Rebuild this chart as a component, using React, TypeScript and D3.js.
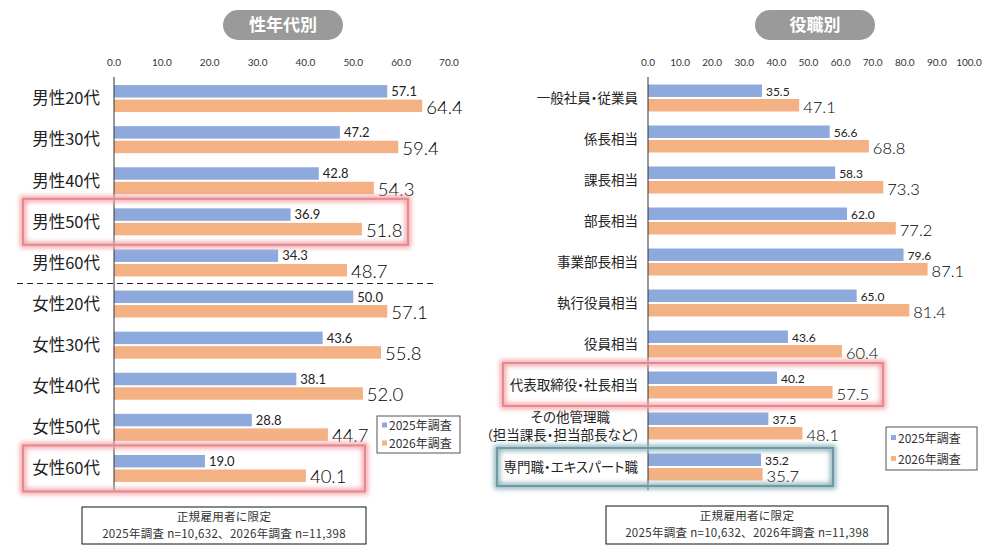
import { useEffect, useRef } from 'react';
import * as d3 from 'd3';

// left panel: 性年代別
const ageCategories = ['男性20代', '男性30代', '男性40代', '男性50代', '男性60代', '女性20代', '女性30代', '女性40代', '女性50代', '女性60代'];
const age2025 = [57.1, 47.2, 42.8, 36.9, 34.3, 50.0, 43.6, 38.1, 28.8, 19.0];
const age2026 = [64.4, 59.4, 54.3, 51.8, 48.7, 57.1, 55.8, 52.0, 44.7, 40.1];
const ageTicks = [0, 10, 20, 30, 40, 50, 60, 70];

// right panel: 役職別
const roleCategories = ['一般社員・従業員', '係長相当', '課長相当', '部長相当', '事業部長相当', '執行役員相当', '役員相当', '代表取締役・社長相当', 'その他管理職|（担当課長・担当部長など）', '専門職・エキスパート職'];
const role2025 = [35.5, 56.6, 58.3, 62.0, 79.6, 65.0, 43.6, 40.2, 37.5, 35.2];
const role2026 = [47.1, 68.8, 73.3, 77.2, 87.1, 81.4, 60.4, 57.5, 48.1, 35.7];
const roleTicks = [0, 10, 20, 30, 40, 50, 60, 70, 80, 90, 100];

const seriesNames = ['2025年調査', '2026年調査'];
const footLines = ['正規雇用者に限定', '2025年調査 n=10,632、2026年調査 n=11,398'];

const BLUE = '#8eaadc';
const ORANGE = '#f4b183';
const FONT = '"Noto Sans CJK JP", "Noto Sans", sans-serif';
const NUM_FONT = 'Lato, "Noto Sans", sans-serif';

export default function App() {
  const ref = useRef<SVGSVGElement>(null);

  useEffect(() => {
    if (!ref.current) return;
    const svg = d3.select(ref.current);
    svg.selectAll('*').remove();

    const defs = svg.append('defs');
    defs.append('filter').attr('id', 'glow')
      .attr('x', '-10%').attr('y', '-30%').attr('width', '120%').attr('height', '160%')
      .append('feGaussianBlur').attr('stdDeviation', 2.5);

    function panel(opts: {
      cats: string[]; a: number[]; b: number[]; ticks: number[];
      xr: [number, number]; yr: [number, number]; title: string; titleX: number;
      labelX: number; labelSize: number; bigSize: number; smallSize: number;
      axisTop: number; axisBottom: number;
    }) {
      const g = svg.append('g');
      const x = d3.scaleLinear().domain([0, opts.ticks[opts.ticks.length - 1]]).range(opts.xr);
      const y = d3.scaleBand().domain(opts.cats).range(opts.yr).padding(0);
      const sub = d3.scaleBand().domain(seriesNames).range([-13.5, 13.5]).paddingInner(0.14);

      // title pill
      const tg = g.append('g');
      tg.append('rect').attr('x', opts.titleX - 60).attr('y', 10).attr('width', 120).attr('height', 30)
        .attr('rx', 15).attr('fill', '#9a9a9a');
      tg.append('text').attr('x', opts.titleX).attr('y', 31).attr('text-anchor', 'middle')
        .attr('fill', '#fff').style('font-size', '17px').style('font-weight', 'bold').style('font-family', FONT)
        .text(opts.title);

      // ticks
      g.selectAll('.tick').data(opts.ticks).join('text')
        .attr('x', d => x(d)).attr('y', 66).attr('text-anchor', 'middle')
        .attr('fill', '#333').style('font-size', '10px').style('font-family', NUM_FONT)
        .text(d => d.toFixed(1));

      const rows = opts.cats.map((c, i) => ({ c, a: opts.a[i], b: opts.b[i] }));

      g.selectAll('.barA').data(rows).join('rect')
        .attr('x', x(0)).attr('y', d => y(d.c)! + y.bandwidth() / 2 + sub(seriesNames[0])!)
        .attr('width', d => x(d.a) - x(0)).attr('height', sub.bandwidth()).attr('fill', BLUE);
      g.selectAll('.barB').data(rows).join('rect')
        .attr('x', x(0)).attr('y', d => y(d.c)! + y.bandwidth() / 2 + sub(seriesNames[1])!)
        .attr('width', d => x(d.b) - x(0)).attr('height', sub.bandwidth()).attr('fill', ORANGE);

      g.selectAll('.valA').data(rows).join('text')
        .attr('x', d => x(d.a) + 4).attr('y', d => y(d.c)! + y.bandwidth() / 2 - 2.5)
        .attr('fill', '#222').style('font-size', `${opts.smallSize}px`).style('font-family', NUM_FONT)
        .text(d => d.a.toFixed(1));
      g.selectAll('.valB').data(rows).join('text')
        .attr('x', d => x(d.b) + 4).attr('y', d => y(d.c)! + y.bandwidth() / 2 + 15)
        .attr('fill', '#000').style('font-size', `${opts.bigSize}px`).style('font-family', NUM_FONT)
        .style('font-weight', 300)
        .text(d => d.b.toFixed(1));

      // category labels
      const lab = g.selectAll('.lab').data(rows).join('text')
        .attr('text-anchor', 'end').attr('fill', '#222')
        .style('font-size', `${opts.labelSize}px`).style('font-family', FONT)
        .style('font-feature-settings', '"palt"');
      lab.each(function (d) {
        const parts = d.c.split('|');
        const t = d3.select(this);
        const cy = y(d.c)! + y.bandwidth() / 2;
        if (parts.length === 1) {
          t.append('tspan').attr('x', opts.labelX).attr('y', cy + opts.labelSize * 0.35).text(parts[0]);
        } else {
          t.append('tspan').attr('x', opts.labelX - 28).attr('y', cy - 4).text(parts[0]);
          t.append('tspan').attr('x', opts.labelX + 2).attr('y', cy + 14).text(parts[1]);
        }
      });

      // axis line
      g.append('line').attr('x1', x(0)).attr('x2', x(0)).attr('y1', opts.axisTop).attr('y2', opts.axisBottom)
        .attr('stroke', '#333').attr('stroke-width', 1);

      return { x, y };
    }

    const left = panel({
      cats: ageCategories, a: age2025, b: age2026, ticks: ageTicks,
      xr: [114, 449], yr: [78, 489], title: '性年代別', titleX: 283,
      labelX: 100, labelSize: 16.5, bigSize: 18.5, smallSize: 13,
      axisTop: 77, axisBottom: 492,
    });
    const right = panel({
      cats: roleCategories, a: role2025, b: role2026, ticks: roleTicks,
      xr: [648, 969], yr: [77.5, 487.5], title: '役職別', titleX: 815,
      labelX: 638, labelSize: 13.5, bigSize: 16.5, smallSize: 12,
      axisTop: 77, axisBottom: 490,
    });

    // dashed separator between 男性 / 女性
    const sepY = (left.y('男性60代')! + left.y('女性20代')! + left.y.bandwidth()) / 2;
    svg.append('line').attr('x1', 17).attr('x2', 437).attr('y1', sepY).attr('y2', sepY)
      .attr('stroke', '#222').attr('stroke-width', 1.2).attr('stroke-dasharray', '6,4');

    // highlight boxes
    function highlight(x0: number, x1: number, yy: number, h: number, color: string, glow: string) {
      const g = svg.append('g');
      g.append('rect').attr('x', x0).attr('y', yy).attr('width', x1 - x0).attr('height', h)
        .attr('fill', 'none').attr('stroke', glow).attr('stroke-width', 6).attr('filter', 'url(#glow)');
      g.append('rect').attr('x', x0).attr('y', yy).attr('width', x1 - x0).attr('height', h)
        .attr('fill', 'none').attr('stroke', color).attr('stroke-width', 2);
    }
    const ly = left.y, ry = right.y;
    highlight(23, 408, ly('男性50代')! + ly.bandwidth() / 2 - 23, 46, '#e8888d', '#f2a6aa');
    highlight(23, 365, ly('女性60代')! + ly.bandwidth() / 2 - 23, 46, '#e8888d', '#f2a6aa');
    highlight(503, 883, ry('代表取締役・社長相当')! + ry.bandwidth() / 2 - 22, 43, '#e8888d', '#f2a6aa');
    highlight(497, 833, ry('専門職・エキスパート職')! + ry.bandwidth() / 2 - 19, 38, '#6e9aa6', '#8fb3bc');

    // legends
    function legend(lx: number, lyy: number, w: number, h: number, gap: number) {
      const g = svg.append('g');
      g.append('rect').attr('x', lx).attr('y', lyy).attr('width', w).attr('height', h)
        .attr('fill', '#fff').attr('stroke', '#555').attr('stroke-width', 1);
      [BLUE, ORANGE].forEach((c, i) => {
        const cy = lyy + h / 2 - gap / 2 + i * gap;
        g.append('rect').attr('x', lx + 5).attr('y', cy - 3).attr('width', 5).attr('height', 5).attr('fill', c);
        g.append('text').attr('x', lx + 12).attr('y', cy + 4.5).attr('fill', '#333')
          .style('font-size', '12px').style('font-family', FONT).style('font-feature-settings', '"palt"')
          .text(seriesNames[i]);
      });
    }
    legend(377, 416, 83, 37, 18);
    legend(886, 427, 91, 43, 21);

    // footnotes
    function foot(fx: number, fy: number, w: number, h: number) {
      const g = svg.append('g');
      g.append('rect').attr('x', fx).attr('y', fy).attr('width', w).attr('height', h)
        .attr('fill', '#fff').attr('stroke', '#111').attr('stroke-width', 1);
      footLines.forEach((t, i) => {
        g.append('text').attr('x', fx + w / 2).attr('y', fy + 14 + i * 16.5).attr('text-anchor', 'middle')
          .attr('fill', '#333').style('font-size', '11.5px').style('font-family', FONT)
          .style('letter-spacing', '0.3px').text(t);
      });
    }
    foot(82, 507, 284, 37);
    foot(606, 506, 282, 38);
  }, []);

  return (
    <svg ref={ref} width={1000} height={560}
      style={{ position: 'absolute', left: 0, top: 0, background: '#fff' }} />
  );
}
